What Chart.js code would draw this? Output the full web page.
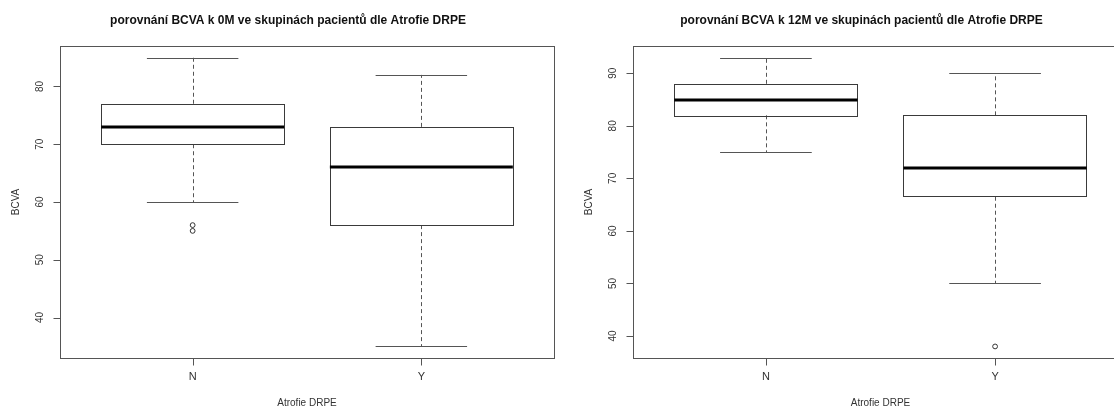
<!DOCTYPE html>
<html>
<head>
<meta charset="utf-8">
<script src="https://cdn.jsdelivr.net/npm/chart.js@4.4.0/dist/chart.umd.min.js"></script>
<style>
  html, body { margin: 0; padding: 0; background: #fff; overflow: hidden; width: 1114px; height: 410px; }
  .panel { position: absolute; top: 0; height: 410px; }
  #p0 { left: 0; width: 560px; }
  #p1 { left: 560px; width: 580px; }
</style>
</head>
<body>
<div class="panel" id="p0"><canvas id="c0"></canvas></div>
<div class="panel" id="p1"><canvas id="c1"></canvas></div>
<script>
// groups on the x axis
const categories = ['N', 'Y'];

// BCVA at 0M
const low0M = [60, 35];
const q1_0M = [70, 56];
const median0M = [73, 66];
const q3_0M = [77, 73];
const high0M = [85, 82];
const outliers0M = [[55, 56], []];
const yTicks0M = [40, 50, 60, 70, 80];

// BCVA at 12M
const low12M = [75, 50];
const q1_12M = [82, 66.5];
const median12M = [85, 72];
const q3_12M = [88, 82];
const high12M = [93, 90];
const outliers12M = [[], [38]];
const yTicks12M = [40, 50, 60, 70, 80, 90];

const FONT = '"Liberation Sans", Arial, sans-serif';
const crisp = v => Math.round(v) + 0.5;

// R-style boxplot drawn on the chart's own scales
const rBoxplot = {
  id: 'rBoxplot',
  beforeDatasetsDraw(chart, args, opts) {
    const ctx = chart.ctx;
    const xs = chart.scales.x, ys = chart.scales.y;
    const s = opts.stats;
    categories.forEach((c, i) => {
      const cx = xs.getPixelForValue(i + 1);
      const bl = xs.getPixelForValue(i + 1 - 0.4), br = xs.getPixelForValue(i + 1 + 0.4);
      const sl = xs.getPixelForValue(i + 1 - 0.2), sr = xs.getPixelForValue(i + 1 + 0.2);
      const yLow = ys.getPixelForValue(s.low[i]), yHigh = ys.getPixelForValue(s.high[i]);
      const yQ1 = ys.getPixelForValue(s.q1[i]), yQ3 = ys.getPixelForValue(s.q3[i]);
      const yMed = ys.getPixelForValue(s.median[i]);
      ctx.save();
      // whiskers
      ctx.strokeStyle = '#555';
      ctx.lineWidth = 1;
      ctx.setLineDash([4, 3]);
      ctx.beginPath();
      ctx.moveTo(crisp(cx), yQ3); ctx.lineTo(crisp(cx), yHigh);
      ctx.moveTo(crisp(cx), yQ1); ctx.lineTo(crisp(cx), yLow);
      ctx.stroke();
      ctx.setLineDash([]);
      // staples
      ctx.beginPath();
      ctx.moveTo(sl, crisp(yHigh)); ctx.lineTo(sr, crisp(yHigh));
      ctx.moveTo(sl, crisp(yLow)); ctx.lineTo(sr, crisp(yLow));
      ctx.stroke();
      // box
      ctx.strokeStyle = '#3a3a3a';
      ctx.strokeRect(crisp(bl), crisp(yQ3), Math.round(br - bl), Math.round(yQ1 - yQ3));
      // median
      ctx.strokeStyle = '#000';
      ctx.lineWidth = 3;
      ctx.beginPath();
      ctx.moveTo(bl, Math.round(yMed)); ctx.lineTo(br, Math.round(yMed));
      ctx.stroke();
      ctx.restore();
    });
  },
  afterDraw(chart, args, opts) {
    const ctx = chart.ctx;
    const a = chart.chartArea;
    const xs = chart.scales.x, ys = chart.scales.y;
    ctx.save();
    // frame
    ctx.strokeStyle = '#555';
    ctx.lineWidth = 1;
    ctx.strokeRect(crisp(a.left), crisp(a.top), Math.round(a.right - a.left), Math.round(a.bottom - a.top));
    // tick marks
    ctx.beginPath();
    opts.yTicks.forEach(t => {
      const y = crisp(ys.getPixelForValue(t));
      ctx.moveTo(crisp(a.left), y); ctx.lineTo(crisp(a.left) - 7, y);
    });
    categories.forEach((c, i) => {
      const x = crisp(xs.getPixelForValue(i + 1));
      ctx.moveTo(x, crisp(a.bottom)); ctx.lineTo(x, crisp(a.bottom) + 7);
    });
    ctx.stroke();

    ctx.fillStyle = '#333';
    ctx.font = '10px ' + FONT;
    ctx.textAlign = 'center';
    ctx.textBaseline = 'middle';
    opts.yTicks.forEach(t => {
      const y = ys.getPixelForValue(t);
      ctx.save();
      ctx.translate(a.left - 20, y);
      ctx.rotate(-Math.PI / 2);
      ctx.fillText(String(t), 0, 0);
      ctx.restore();
    });
    ctx.font = '11px ' + FONT;
    categories.forEach((c, i) => {
      ctx.fillText(c, xs.getPixelForValue(i + 1), a.bottom + 19);
    });
    ctx.font = '10px ' + FONT;
    ctx.fillText(opts.xTitle, (a.left + a.right) / 2, a.bottom + 45);
    ctx.save();
    ctx.translate(a.left - 44, (a.top + a.bottom) / 2);
    ctx.rotate(-Math.PI / 2);
    ctx.fillText(opts.yTitle, 0, 0);
    ctx.restore();

    ctx.fillStyle = '#111';
    ctx.font = 'bold 12px ' + FONT;
    ctx.fillText(opts.title, (a.left + a.right) / 2 - 19, 21);
    ctx.restore();
  }
};

// y range: data range padded by 4% on each side, as R does
function paddedRange(low, high, outliers) {
  const all = low.concat(high, outliers.flat());
  const mn = Math.min(...all), mx = Math.max(...all);
  const d = (mx - mn) * 0.04;
  return [mn - d, mx + d];
}

function makePanel(id, title, stats, yTicks, padding) {
  const points = [];
  categories.forEach((c, i) => stats.outliers[i].forEach(v => points.push({ x: i + 1, y: v })));
  const [ymin, ymax] = paddedRange(stats.low, stats.high, stats.outliers);
  return new Chart(document.getElementById(id), {
    type: 'scatter',
    data: {
      datasets: [{
        data: points,
        pointStyle: 'circle',
        radius: 2.4,
        borderWidth: 1,
        borderColor: '#333',
        backgroundColor: 'rgba(0,0,0,0)'
      }]
    },
    options: {
      responsive: true,
      maintainAspectRatio: false,
      animation: false,
      layout: { padding: padding },
      plugins: {
        legend: { display: false },
        tooltip: { enabled: false },
        rBoxplot: { stats: stats, yTicks: yTicks, title: title, xTitle: 'Atrofie DRPE', yTitle: 'BCVA' }
      },
      scales: {
        x: { type: 'linear', display: false, min: 0.42, max: 2.58 },
        y: { type: 'linear', display: false, min: ymin, max: ymax }
      }
    },
    plugins: [rBoxplot]
  });
}

makePanel('c0', 'porovnání BCVA k 0M ve skupinách pacientů dle Atrofie DRPE',
  { low: low0M, q1: q1_0M, median: median0M, q3: q3_0M, high: high0M, outliers: outliers0M },
  yTicks0M, { left: 60, right: 6, top: 46, bottom: 52 });

makePanel('c1', 'porovnání BCVA k 12M ve skupinách pacientů dle Atrofie DRPE',
  { low: low12M, q1: q1_12M, median: median12M, q3: q3_12M, high: high12M, outliers: outliers12M },
  yTicks12M, { left: 73, right: 12, top: 46, bottom: 52 });
</script>
</body>
</html>
